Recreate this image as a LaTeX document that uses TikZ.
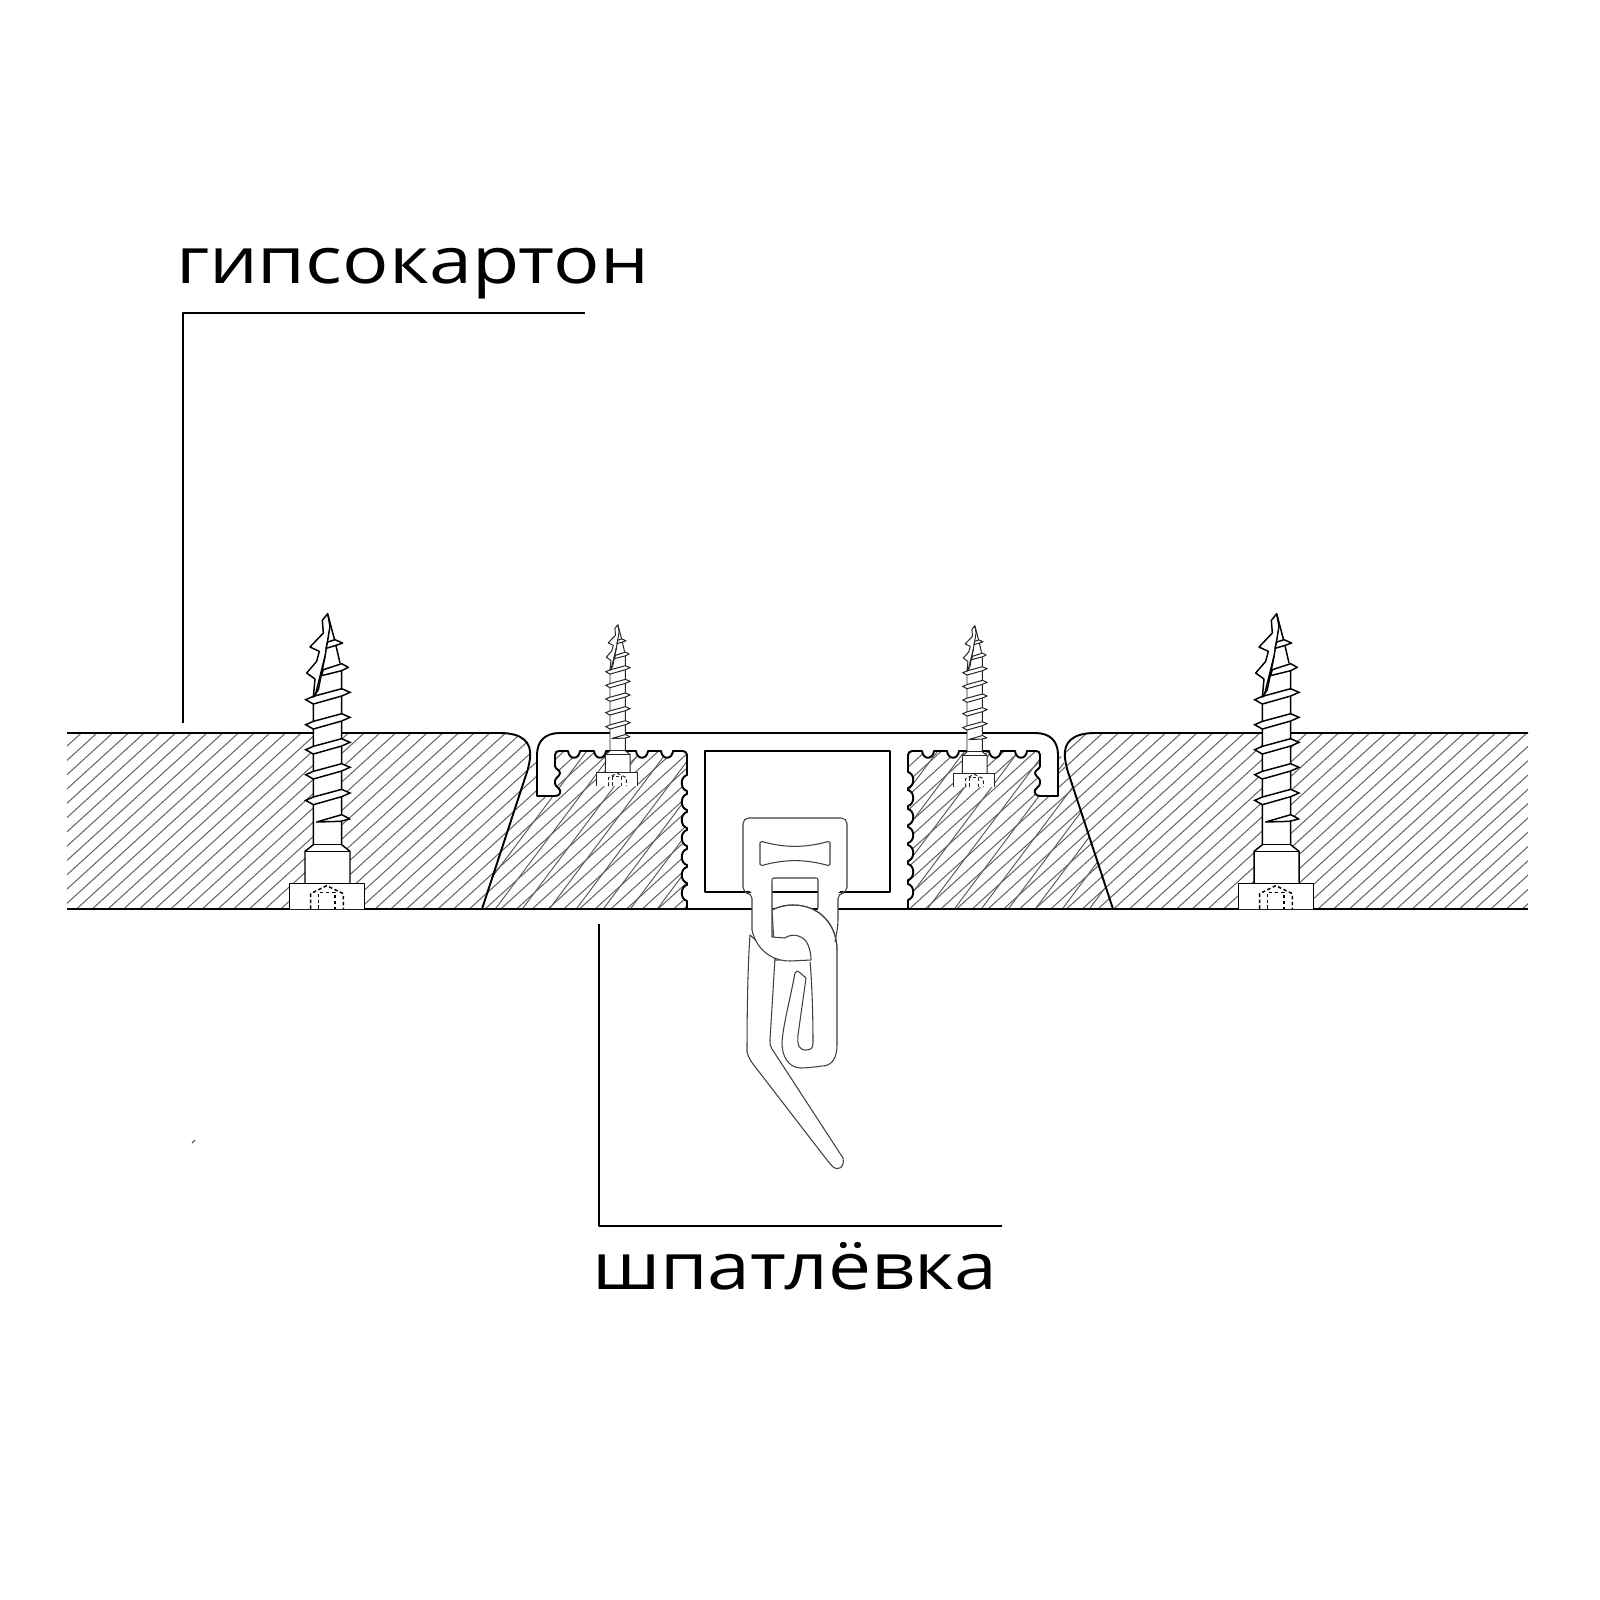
\documentclass[tikz,border=0pt]{standalone}
\usepackage{fontspec}
\usepackage{graphicx}
\setmainfont{Open Sans}
\newcommand{\hatchA}{\foreach \c in {0,...,115}{\draw[hatchline] (0,{778.4+14.3*\c}) -- (1600,{778.4+14.3*\c-1456});}}
\newcommand{\hatchB}{\foreach \c in {0,...,50}{\draw[hatchline] ({430+27*\c},960) -- ({430+27*\c+300},{960-400});}}
\newcommand{\dipTop}[1]{-- ({#1+6},751) .. controls ({#1+5},760) and ({#1-5},760) .. ({#1-6},751)}
\newcommand{\toothR}[1]{-- (908,{#1-8}) .. controls (915,{#1-6}) and (915,{#1+6}) .. (908,{#1+8})}
\newcommand{\toothL}[1]{-- (687,{#1+8}) .. controls (680,{#1+6}) and (680,{#1-6}) .. (687,{#1-8})}
\tikzset{
  hatchline/.style={line width=.28pt,black!62},
  heavy/.style={line width=.55pt,black},
  thinline/.style={line width=.3pt,black!75},
  leader/.style={line width=.45pt,black},
  lab/.style={inner sep=0pt,outer sep=0pt,anchor=base west,text=black},
  screw/.pic={
    \begin{scope}[shift={(-204,-958)}]
      % white body
      \fill[white] (160,340) -- (160,765) -- (135,785) -- (135,882) -- (88,882) -- (88,958) -- (313,958) -- (313,882) -- (270,882) -- (270,785) -- (245,765) -- (245,240) -- (203,72) -- (187,92) -- (150,172) -- (140,250) -- cycle;
      % shaft and head
      \draw[pic actions] (160,340) -- (160,765) -- (135,785) -- (135,882);
      \draw[pic actions] (245,240) -- (245,765) -- (270,785) -- (270,882);
      \draw[pic actions] (160,765) -- (245,765);
      \draw[pic actions] (135,785) -- (270,785);
      \draw[pic actions] (88,958) -- (88,882) -- (313,882) -- (313,958);
      \draw[pic actions,dash pattern=on 1pt off .7pt] (152,958) -- (152,912) -- (200,888) -- (250,912) -- (250,958);
      \draw[pic actions,dash pattern=on 1pt off .7pt] (175,958) -- (175,908) -- (225,908) -- (225,958);
      % regular threads
      \foreach \d in {-75,0,75,150,227}{
        \draw[pic actions,fill=white,line join=miter,shift={(0,\d)}] (137,405) -- (160,395) -- (245,372) -- (270,383) -- (245,394) -- (160,418) -- cycle;
      }
      \draw[pic actions,fill=white] (170,697) -- (245,675) -- (270,688) -- (240,695) -- cycle;
      % tip
      \draw[pic actions,fill=white] (203,72) -- (187,92) -- (190,130) -- (150,172) -- (178,185) -- (170,215) -- (140,250) -- (165,268) -- (160,322) -- (175,300) -- (195,200) -- (210,110) -- cycle;
      \draw[pic actions] (203,72) -- (225,155) -- (240,220);
      \draw[pic actions] (245,240) -- (245,300);
      \draw[pic actions] (195,200) -- (165,320);
      \draw[pic actions,fill=white] (203,157) -- (225,150) -- (248,160) -- (225,168) -- (198,176) -- cycle;
      \draw[pic actions,fill=white] (190,240) -- (245,222) -- (265,233) -- (245,243) -- (184,258) -- cycle;
    \end{scope}
  }
}
\begin{document}
\begin{tikzpicture}[x=0.01cm,y=-0.01cm,line join=round]
\useasboundingbox (0,0) rectangle (1600,1600);
\fill[white] (0,0) rectangle (1600,1600);

% plaster, left
\begin{scope}
  \clip (482,909) -- (533,758) -- (540,745) -- (690,745) -- (690,909) -- cycle;
  \hatchA
  \hatchB
\end{scope}
% plaster, right
\begin{scope}
  \clip (1113,909) -- (1062,758) -- (1055,745) -- (905,745) -- (905,909) -- cycle;
  \hatchA
  \hatchB
\end{scope}

% board, left
\fill[white] (67,733) -- (500,733) .. controls (522,733) and (532,742) .. (530,758) .. controls (529,767) and (527,772) .. (525,778) -- (482,909) -- (67,909) -- cycle;
\begin{scope}
  \clip (67,733) -- (500,733) .. controls (522,733) and (532,742) .. (530,758) .. controls (529,767) and (527,772) .. (525,778) -- (482,909) -- (67,909) -- cycle;
  \hatchA
\end{scope}
\draw[heavy] (67,733) -- (500,733) .. controls (522,733) and (532,742) .. (530,758) .. controls (529,767) and (527,772) .. (525,778) -- (482,909);

% board, right
\fill[white] (1528,733) -- (1095,733) .. controls (1073,733) and (1063,742) .. (1065,758) .. controls (1066,767) and (1068,772) .. (1070,778) -- (1113,909) -- (1528,909) -- cycle;
\begin{scope}
  \clip (1528,733) -- (1095,733) .. controls (1073,733) and (1063,742) .. (1065,758) .. controls (1066,767) and (1068,772) .. (1070,778) -- (1113,909) -- (1528,909) -- cycle;
  \hatchA
\end{scope}
\draw[heavy] (1528,733) -- (1095,733) .. controls (1073,733) and (1063,742) .. (1065,758) .. controls (1066,767) and (1068,772) .. (1070,778) -- (1113,909);

% bottom line
\draw[heavy] (67,909) -- (1528,909);

% aluminium profile
\draw[heavy,fill=white] (537,796) -- (537,755) .. controls (537,741) and (545,733) .. (560,733) -- (1035,733) .. controls (1050,733) and (1058,741) .. (1058,755) -- (1058,796) -- (1040,796)
  .. controls (1036,796) and (1034,793) .. (1035,790) .. controls (1036,787) and (1040,787) .. (1040,783) -- (1040,781) .. controls (1040,778) and (1035,776) .. (1035,773) .. controls (1035,770) and (1040,769) .. (1040,766) -- (1040,755)
  .. controls (1040,752) and (1038,751) .. (1036,751)
  \dipTop{1021} \dipTop{995} \dipTop{953} \dipTop{928}
  -- (912,751) .. controls (910,751) and (908,753) .. (908,755)
  \toothR{780} \toothR{798} \toothR{817} \toothR{835} \toothR{853} \toothR{872} \toothR{892}
  -- (908,909) -- (687,909)
  \toothL{893} \toothL{875} \toothL{857} \toothL{838} \toothL{820} \toothL{802} \toothL{783}
  -- (687,755) .. controls (687,753) and (685,751) .. (683,751)
  \dipTop{667} \dipTop{642} \dipTop{600} \dipTop{574}
  -- (559,751) .. controls (557,751) and (555,752) .. (555,755)
  -- (555,766) .. controls (555,769) and (560,770) .. (560,773) .. controls (560,776) and (555,778) .. (555,781) -- (555,783) .. controls (555,787) and (559,787) .. (560,790) .. controls (561,793) and (559,796) .. (555,796) -- cycle;
\draw[heavy] (705,751) rectangle (890,892);

% screws
\pic[line width=.42pt,black,scale=.3333] at (328,909) {screw};
\pic[line width=.42pt,black,scale=.3333] at (1277,909) {screw};
\pic[line width=.28pt,black!85,scale=.182] at (618,786) {screw};
\pic[line width=.28pt,black!85,scale=.182] at (975,787) {screw};

% hook blade
\draw[thinline,fill=white] (750,935) .. controls (748,960) and (747,1010) .. (747,1052) .. controls (748,1056) and (750,1060) .. (753,1064) -- (827,1160) -- (833,1167) .. controls (837,1171) and (845,1168) .. (843,1158) -- (772,1049) .. controls (770,1046) and (770,1044) .. (770,1040) -- (775,958) -- cycle;
% chain ring
\draw[thinline,fill=white] (772,910) .. controls (780,906) and (787,905) .. (793,905) .. controls (820,905) and (837,925) .. (837,950) -- (837,1045) .. controls (837,1058) and (832,1066) .. (822,1066) .. controls (815,1067) and (807,1068) .. (800,1068) .. controls (788,1067) and (782,1056) .. (782,1043) .. controls (783,1025) and (790,1000) .. (795,973) .. controls (796,971) and (798,970) .. (799,972) -- (806,978) -- (798,1035) .. controls (797,1045) and (799,1050) .. (806,1050) .. controls (811,1050) and (813,1048) .. (813,1043) .. controls (813,1015) and (812,985) .. (810,960) -- (775,960) -- cycle;
% carrier
\fill[white] (752,930) -- (752,893) -- (743,886) -- (743,818) -- (847,818) -- (847,886) -- (838,893) -- (838,910) -- (818,910) -- (818,878) -- (772,878) -- (772,960) -- (760,950) -- cycle;
\fill[white] (772,937) -- (785,938) .. controls (790,934) and (800,934) .. (806,941) .. controls (809,946) and (811,952) .. (812,962) -- (788,962) .. controls (775,961) and (758,952) .. (752,930) -- (752,925) -- cycle;
\draw[thinline,rounded corners=1.6pt] (752,930) -- (752,893) -- (743,893) -- (743,818) -- (847,818) -- (847,893) -- (838,893) -- (838,925) -- (835,942);
\draw[thinline] (752,930) .. controls (756,948) and (770,961) .. (790,961) -- (811,960);
\draw[thinline] (818,908) -- (818,880) .. controls (818,878) and (817,878) .. (816,878) -- (774,878) .. controls (772,878) and (772,879) .. (772,881) -- (772,937) -- (785,938) .. controls (790,934) and (800,934) .. (806,941) .. controls (809,946) and (811,952) .. (811,960);
\draw[thinline] (772,910) .. controls (780,906) and (787,905) .. (793,905) .. controls (820,905) and (837,925) .. (837,950);
\draw[thinline,rounded corners=.5pt] (760,841) .. controls (785,848) and (805,848) .. (830,841) -- (830,866) .. controls (805,859) and (785,859) .. (760,866) -- cycle;

% leaders
\coordinate (la) at (183,723);
\coordinate (lb) at (585,313);
\coordinate (lc) at (599,924);
\coordinate (ld) at (1002,1226);
\draw[leader] (la) |- (lb);
\draw[leader] (lc) |- (ld);

% stray mark
\coordinate (ma) at (192,1143);
\coordinate (mb) at (195,1140);
\draw[thinline] (ma) -- (mb);

% labels
\node[lab] (t1) at (176,284) {\fontsize{18.4pt}{22pt}\selectfont\resizebox{4.73cm}{\height}{гипсокартон}};
\node[lab] (t2) at (592,1289) {\fontsize{18.4pt}{22pt}\selectfont\resizebox{4.05cm}{\height}{шпатлёвка}};
\end{tikzpicture}
\end{document}
